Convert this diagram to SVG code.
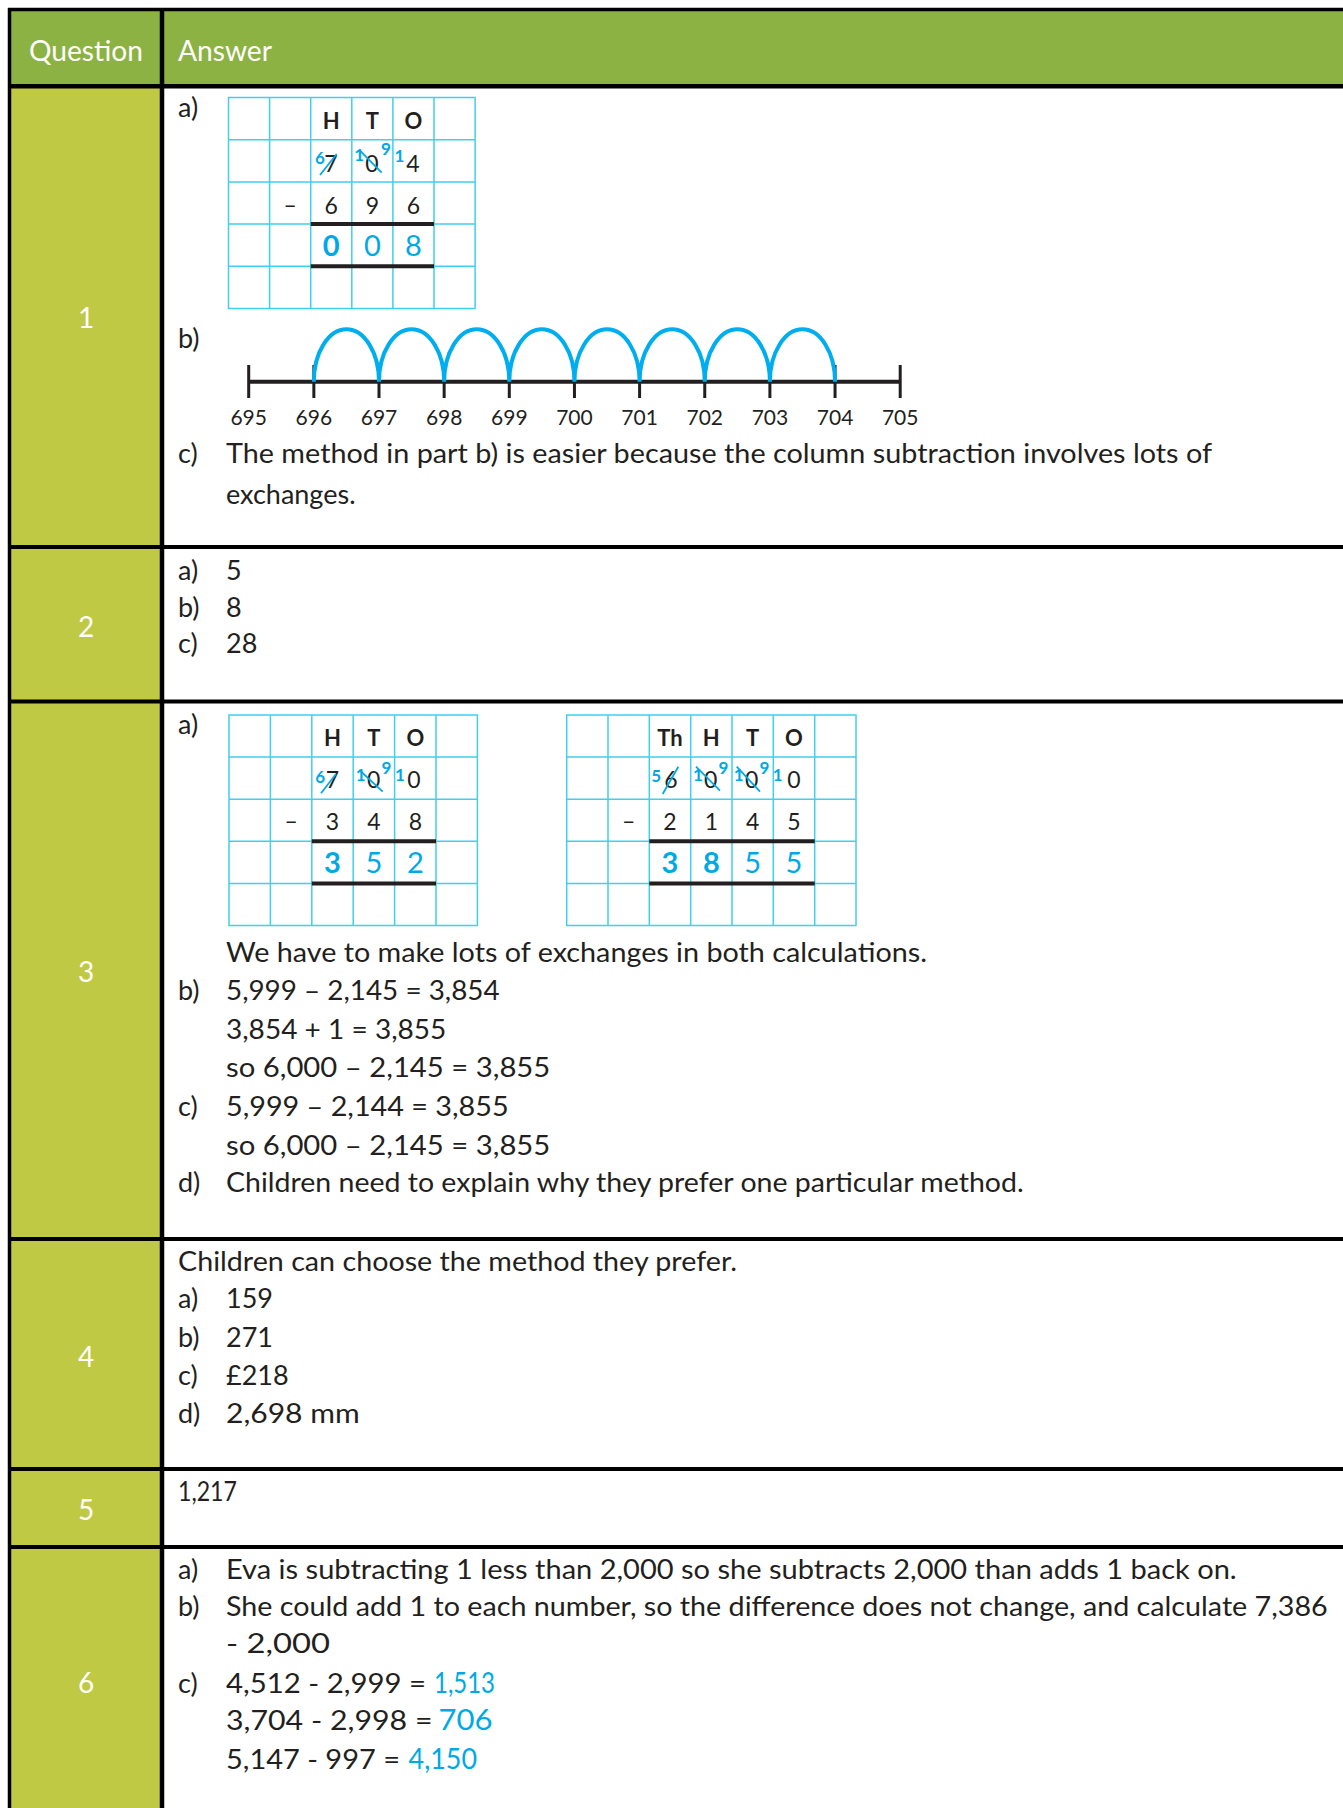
<svg xmlns="http://www.w3.org/2000/svg" width="1343" height="1808" viewBox="0 0 1343 1808">
<style>
.t{font-family:Lato,"Liberation Sans",sans-serif;font-size:27px;fill:#231f20}
.hdr{font-family:Lato,"Liberation Sans",sans-serif;font-size:29px;fill:#ffffff}
.num{font-family:Lato,"Liberation Sans",sans-serif;font-size:28px;fill:#ffffff;text-anchor:middle}
.gh{font-family:Lato,"Liberation Sans",sans-serif;font-size:22px;font-weight:bold;fill:#231f20;text-anchor:middle}
.gd{font-family:Lato,"Liberation Sans",sans-serif;font-size:23px;fill:#231f20;text-anchor:middle}
.ga{font-family:Lato,"Liberation Sans",sans-serif;font-size:29px;fill:#00a9e6;text-anchor:middle}
.gab{font-weight:bold}
.sp{font-family:Lato,"Liberation Sans",sans-serif;font-size:17px;font-weight:bold;fill:#00a9e6;text-anchor:middle}
.nlab{font-family:Lato,"Liberation Sans",sans-serif;font-size:21px;fill:#231f20;text-anchor:middle}
.blue{fill:#00a9e6;font-size:29px}
.grid{fill:none;stroke:#3fd0f0;stroke-width:1.5}
.thick{stroke:#231f20;stroke-width:4}
.strike{stroke:#00a9e6;stroke-width:1.8}
.bd{stroke:#000000;fill:none}
.arc{fill:none;stroke:#00aeef;stroke-width:4}
.nl{stroke:#231f20;stroke-width:4}
.tick{stroke:#231f20;stroke-width:3}
</style>
<rect x="0" y="0" width="1343" height="1808" fill="#ffffff"/>

<g id="table">
<rect x="8" y="8" width="1335" height="78" fill="#8bb243"/>
<rect x="8" y="86" width="154" height="1722" fill="#bfc943"/>
<g id="borders" class="bd">
<line x1="8" y1="9.5" x2="1343" y2="9.5" stroke-width="3.5"/>
<line x1="9.5" y1="8" x2="9.5" y2="1808" stroke-width="3.5"/>
<line x1="8" y1="86.3" x2="1343" y2="86.3" stroke-width="4.5"/>
<line x1="162" y1="8" x2="162" y2="1808" stroke-width="4.5"/>
<line x1="8" y1="547" x2="1343" y2="547" stroke-width="4"/>
<line x1="8" y1="701.5" x2="1343" y2="701.5" stroke-width="4"/>
<line x1="8" y1="1239" x2="1343" y2="1239" stroke-width="4"/>
<line x1="8" y1="1469" x2="1343" y2="1469" stroke-width="4"/>
<line x1="8" y1="1547" x2="1343" y2="1547" stroke-width="4"/>
</g>
<g id="header">
<text class="hdr" x="29" y="61" textLength="114" lengthAdjust="spacingAndGlyphs">Question</text>
<text class="hdr" x="178" y="61" textLength="94" lengthAdjust="spacingAndGlyphs">Answer</text>
</g>
<g id="question-numbers">
<text class="num" x="86" y="328">1</text>
<text class="num" x="86" y="637">2</text>
<text class="num" x="86" y="982">3</text>
<text class="num" x="86" y="1367">4</text>
<text class="num" x="86" y="1520">5</text>
<text class="num" x="86" y="1693">6</text>
</g>
</g>

<g id="q1">
<text class="t" x="178" y="117">a)</text>
<g id="q1-grid">
<rect class="grid" x="228.5" y="97.5" width="246.6" height="211"/>
<path class="grid" d="M269.6 97.5V308.5M310.7 97.5V308.5M351.8 97.5V308.5M392.9 97.5V308.5M434 97.5V308.5M228.5 139.7H475.1M228.5 181.9H475.1M228.5 224.1H475.1M228.5 266.3H475.1"/>
<line class="thick" x1="310.7" y1="224.1" x2="434" y2="224.1"/>
<line class="thick" x1="310.7" y1="266.3" x2="434" y2="266.3"/>
<text class="gh" x="331.25" y="128.5">H</text>
<text class="gh" x="372.35" y="128.5">T</text>
<text class="gh" x="413.45" y="128.5">O</text>
<text class="gd" x="331" y="171.5">7</text>
<text class="gd" x="372" y="171.5">0</text>
<text class="gd" x="413" y="171.5">4</text>
<text class="sp" x="320" y="164">6</text>
<line class="strike" x1="320" y1="175" x2="336.7" y2="154"/>
<text class="sp" x="359.2" y="161">1</text>
<line class="strike" x1="360" y1="150.7" x2="381.7" y2="172.7"/>
<text class="sp" x="386" y="155">9</text>
<text class="sp" x="399.5" y="161.5">1</text>
<text class="gd" x="290.15" y="212.5">–</text>
<text class="gd" x="331.25" y="213.5">6</text>
<text class="gd" x="372.35" y="213.5">9</text>
<text class="gd" x="413.45" y="213.5">6</text>
<text class="ga gab" x="331.25" y="255.5">0</text>
<text class="ga" x="372.35" y="255.5">0</text>
<text class="ga" x="413.45" y="255.5">8</text>
</g>
<text class="t" x="178" y="348">b)</text>
<g id="q1-numberline">
<line class="nl" x1="248.7" y1="381.7" x2="900.2" y2="381.7"/>
<path class="tick" d="M248.7 365V398M313.85 365V398M379 365V398M444.15 365V398M509.3 365V398M574.45 365V398M639.6 365V398M704.75 365V398M769.9 365V398M835.05 365V398M900.2 365V398"/>
<path class="arc" d="M313.85 381.7A32.575 52.4 0 0 1 379 381.7M379 381.7A32.575 52.4 0 0 1 444.15 381.7M444.15 381.7A32.575 52.4 0 0 1 509.3 381.7M509.3 381.7A32.575 52.4 0 0 1 574.45 381.7M574.45 381.7A32.575 52.4 0 0 1 639.6 381.7M639.6 381.7A32.575 52.4 0 0 1 704.75 381.7M704.75 381.7A32.575 52.4 0 0 1 769.9 381.7M769.9 381.7A32.575 52.4 0 0 1 835.05 381.7"/>
<text class="nlab" x="248.7" y="425">695</text>
<text class="nlab" x="313.85" y="425">696</text>
<text class="nlab" x="379" y="425">697</text>
<text class="nlab" x="444.15" y="425">698</text>
<text class="nlab" x="509.3" y="425">699</text>
<text class="nlab" x="574.45" y="425">700</text>
<text class="nlab" x="639.6" y="425">701</text>
<text class="nlab" x="704.75" y="425">702</text>
<text class="nlab" x="769.9" y="425">703</text>
<text class="nlab" x="835.05" y="425">704</text>
<text class="nlab" x="900.2" y="425">705</text>
</g>
<text class="t" x="178" y="463">c)</text>
<text class="t" x="226" y="463" textLength="986" lengthAdjust="spacingAndGlyphs">The method in part b) is easier because the column subtraction involves lots of</text>
<text class="t" x="226" y="504">exchanges.</text>
</g>

<g id="q2">
<text class="t" x="178" y="580">a)</text><text class="t" x="226" y="580">5</text>
<text class="t" x="178" y="617">b)</text><text class="t" x="226" y="617">8</text>
<text class="t" x="178" y="653">c)</text><text class="t" x="226" y="653">28</text>
</g>

<g id="q3">
<text class="t" x="178" y="733.5">a)</text>
<g id="q3-grid-a">
<rect class="grid" x="229" y="715" width="248.4" height="210.5"/>
<path class="grid" d="M270.4 715V925.5M311.8 715V925.5M353.2 715V925.5M394.6 715V925.5M436 715V925.5M229 757.1H477.4M229 799.2H477.4M229 841.3H477.4M229 883.4H477.4"/>
<line class="thick" x1="311.8" y1="841.3" x2="436" y2="841.3"/>
<line class="thick" x1="311.8" y1="883.4" x2="436" y2="883.4"/>
<text class="gh" x="332.5" y="745.5">H</text>
<text class="gh" x="373.9" y="745.5">T</text>
<text class="gh" x="415.3" y="745.5">O</text>
<text class="gd" x="332.5" y="788">7</text>
<text class="gd" x="373.7" y="788">0</text>
<text class="gd" x="414" y="788">0</text>
<text class="sp" x="320.3" y="782.5">6</text>
<line class="strike" x1="321" y1="793.3" x2="336" y2="774"/>
<text class="sp" x="360.8" y="781">1</text>
<line class="strike" x1="359.3" y1="770" x2="382.7" y2="791.7"/>
<text class="sp" x="386.5" y="774">9</text>
<text class="sp" x="400" y="781">1</text>
<text class="gd" x="291.1" y="829">–</text>
<text class="gd" x="332.5" y="830">3</text>
<text class="gd" x="373.9" y="830">4</text>
<text class="gd" x="415.3" y="830">8</text>
<text class="ga gab" x="332.5" y="873">3</text>
<text class="ga" x="373.9" y="873">5</text>
<text class="ga" x="415.3" y="873">2</text>
</g>
<g id="q3-grid-b">
<rect class="grid" x="566.7" y="715" width="289.3" height="210.5"/>
<path class="grid" d="M608 715V925.5M649.3 715V925.5M690.7 715V925.5M732 715V925.5M773.3 715V925.5M814.7 715V925.5M566.7 757.1H856M566.7 799.2H856M566.7 841.3H856M566.7 883.4H856"/>
<line class="thick" x1="649.3" y1="841.3" x2="814.7" y2="841.3"/>
<line class="thick" x1="649.3" y1="883.4" x2="814.7" y2="883.4"/>
<text class="gh" x="670" y="745.5">Th</text>
<text class="gh" x="711.35" y="745.5">H</text>
<text class="gh" x="752.65" y="745.5">T</text>
<text class="gh" x="794" y="745.5">O</text>
<text class="gd" x="670.8" y="788">6</text>
<text class="gd" x="710.7" y="788">0</text>
<text class="gd" x="751.7" y="788">0</text>
<text class="gd" x="794" y="788">0</text>
<text class="sp" x="656.3" y="781.5">5</text>
<line class="strike" x1="662.7" y1="794" x2="678.3" y2="766.7"/>
<text class="sp" x="698" y="781">1</text>
<line class="strike" x1="696" y1="766.7" x2="720" y2="790.7"/>
<text class="sp" x="723.5" y="774">9</text>
<text class="sp" x="738.8" y="781">1</text>
<line class="strike" x1="736.7" y1="766.7" x2="760" y2="791.7"/>
<text class="sp" x="764.4" y="774">9</text>
<text class="sp" x="777.8" y="781">1</text>
<text class="gd" x="628.65" y="829">–</text>
<text class="gd" x="670" y="830">2</text>
<text class="gd" x="711.35" y="830">1</text>
<text class="gd" x="752.65" y="830">4</text>
<text class="gd" x="794" y="830">5</text>
<text class="ga gab" x="670" y="873">3</text>
<text class="ga gab" x="711.35" y="873">8</text>
<text class="ga" x="752.65" y="873">5</text>
<text class="ga" x="794" y="873">5</text>
</g>
<text class="t" x="226" y="961.7" textLength="701" lengthAdjust="spacingAndGlyphs">We have to make lots of exchanges in both calculations.</text>
<text class="t" x="178" y="1000">b)</text>
<text class="t" x="226" y="1000" textLength="273.6" lengthAdjust="spacingAndGlyphs">5,999 – 2,145 = 3,854</text>
<text class="t" x="226" y="1039" textLength="220.3" lengthAdjust="spacingAndGlyphs">3,854 + 1 = 3,855</text>
<text class="t" x="226" y="1076.7" textLength="324.3" lengthAdjust="spacingAndGlyphs">so 6,000 – 2,145 = 3,855</text>
<text class="t" x="178" y="1116">c)</text>
<text class="t" x="226" y="1116" textLength="282.6" lengthAdjust="spacingAndGlyphs">5,999 – 2,144 = 3,855</text>
<text class="t" x="226" y="1155" textLength="324.3" lengthAdjust="spacingAndGlyphs">so 6,000 – 2,145 = 3,855</text>
<text class="t" x="178" y="1192">d)</text>
<text class="t" x="226" y="1192" textLength="797.7" lengthAdjust="spacingAndGlyphs">Children need to explain why they prefer one particular method.</text>
</g>

<g id="q4">
<text class="t" x="178" y="1270.7" textLength="559" lengthAdjust="spacingAndGlyphs">Children can choose the method they prefer.</text>
<text class="t" x="178" y="1308.3">a)</text><text class="t" x="226" y="1308.3">159</text>
<text class="t" x="178" y="1346.7">b)</text><text class="t" x="226" y="1346.7">271</text>
<text class="t" x="178" y="1385">c)</text><text class="t" x="226" y="1385">£218</text>
<text class="t" x="178" y="1422.7">d)</text><text class="t" x="226" y="1422.7" textLength="133.7" lengthAdjust="spacingAndGlyphs">2,698 mm</text>
</g>

<g id="q5">
<text class="t" x="178" y="1500.7" textLength="59" lengthAdjust="spacingAndGlyphs">1,217</text>
</g>

<g id="q6">
<text class="t" x="178" y="1579.3">a)</text>
<text class="t" x="226" y="1579.3" textLength="1010.7" lengthAdjust="spacingAndGlyphs">Eva is subtracting 1 less than 2,000 so she subtracts 2,000 than adds 1 back on.</text>
<text class="t" x="178" y="1615.7">b)</text>
<text class="t" x="226" y="1615.7" textLength="1101.7" lengthAdjust="spacingAndGlyphs">She could add 1 to each number, so the difference does not change, and calculate 7,386</text>
<text class="t" x="226" y="1652.7" textLength="104" lengthAdjust="spacingAndGlyphs">- 2,000</text>
<text class="t" x="178" y="1692.7">c)</text>
<text class="t" x="226" y="1692.7" textLength="200" lengthAdjust="spacingAndGlyphs">4,512 - 2,999 =</text>
<text class="t blue" x="434" y="1692.7" textLength="61" lengthAdjust="spacingAndGlyphs">1,513</text>
<text class="t" x="226" y="1730" textLength="206.5" lengthAdjust="spacingAndGlyphs">3,704 - 2,998 =</text>
<text class="t blue" x="438.5" y="1730" textLength="54" lengthAdjust="spacingAndGlyphs">706</text>
<text class="t" x="226" y="1769.3" textLength="174" lengthAdjust="spacingAndGlyphs">5,147 - 997 =</text>
<text class="t blue" x="408.6" y="1769.3" textLength="68.4" lengthAdjust="spacingAndGlyphs">4,150</text>
</g>
</svg>
